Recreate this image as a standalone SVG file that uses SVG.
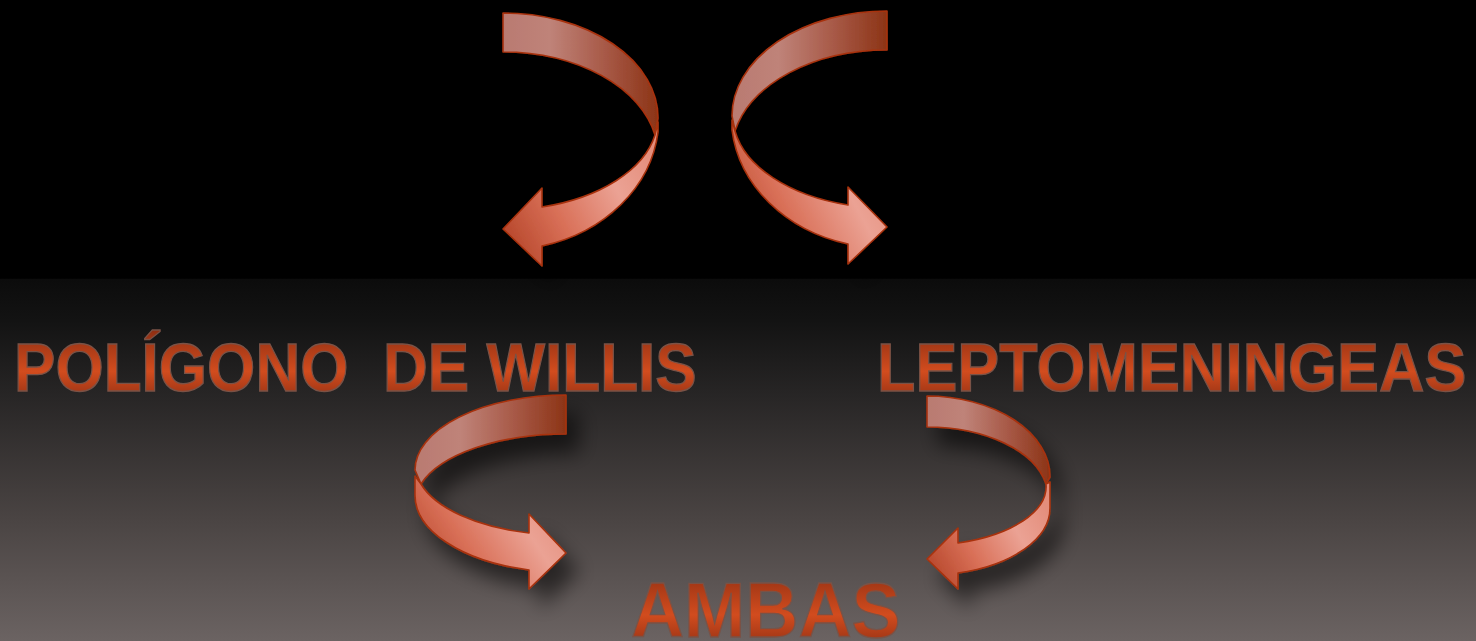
<svg xmlns="http://www.w3.org/2000/svg" xmlns:xlink="http://www.w3.org/1999/xlink" width="1476" height="641" viewBox="0 0 1476 641">
<style>
.face-back{fill:url(#gBack);stroke:#a8320e;stroke-width:1.6;stroke-linejoin:round}
.face-front{fill:url(#gFront);stroke:#a8320e;stroke-width:1.6;stroke-linejoin:round}
.lbl{font-family:"Liberation Sans",Arial,sans-serif;font-weight:bold;fill:url(#gText);stroke:#7a5246;stroke-width:1.3;white-space:pre}
</style>
<defs>
<linearGradient id="bg" x1="0" y1="0" x2="0" y2="641" gradientUnits="userSpaceOnUse">
<stop offset="0" stop-color="#000"/>
<stop offset="0.434" stop-color="#000"/>
<stop offset="0.436" stop-color="#0c0c0c"/>
<stop offset="0.5" stop-color="#131313"/>
<stop offset="0.62" stop-color="#282626"/>
<stop offset="0.81" stop-color="#4a4443"/>
<stop offset="1" stop-color="#6b6362"/>
</linearGradient>
<linearGradient id="gBack" x1="0" y1="0.5" x2="1" y2="0.5">
<stop offset="0" stop-color="#b97a71"/>
<stop offset="0.3" stop-color="#bf8379"/>
<stop offset="0.65" stop-color="#a85a48"/>
<stop offset="1" stop-color="#8c3416"/>
</linearGradient>
<linearGradient id="gFront" x1="0" y1="0.8" x2="1" y2="0.3">
<stop offset="0" stop-color="#b6462a"/>
<stop offset="0.35" stop-color="#d97058"/>
<stop offset="0.72" stop-color="#eba294"/>
<stop offset="1" stop-color="#e48e7c"/>
</linearGradient>
<linearGradient id="gText" x1="0" y1="0" x2="0" y2="1">
<stop offset="0" stop-color="#8e2e12"/>
<stop offset="0.55" stop-color="#d24c1e"/>
<stop offset="1" stop-color="#8a2c12"/>
</linearGradient>
<linearGradient id="reflFade" x1="0" y1="392" x2="0" y2="426" gradientUnits="userSpaceOnUse">
<stop offset="0" stop-color="#fff" stop-opacity="0.8"/>
<stop offset="1" stop-color="#fff" stop-opacity="0"/>
</linearGradient>
<mask id="reflMask" maskUnits="userSpaceOnUse" x="0" y="0" width="1476" height="641">
<rect x="0" y="392" width="1476" height="36" fill="url(#reflFade)"/>
</mask>
<filter id="shadow" x="-30%" y="-30%" width="170%" height="170%">
<feGaussianBlur in="SourceAlpha" stdDeviation="10"/>
<feOffset dx="12" dy="18" result="b"/>
<feComponentTransfer><feFuncA type="linear" slope="0.55"/></feComponentTransfer>
<feMerge><feMergeNode/><feMergeNode in="SourceGraphic"/></feMerge>
</filter>
</defs>

<rect width="1476" height="641" fill="url(#bg)"/>

<g id="connectors">
<g id="arrow-top-left" filter="url(#shadow)">
<path class="face-back" d="M503,13 A155,105 0 0 1 658,118 L655,135 A155,103 0 0 0 503,52 Z"/>
<path class="face-front" d="M655,135 A155,92 0 0 1 542,207 L542,188 L503,229 L542,266 L542,246 A155,132 0 0 0 658,132 L658,122 Z"/>
</g>
<g id="arrow-top-right" filter="url(#shadow)">
<path class="face-back" d="M887,11 A155,105 0 0 0 732,116 L735,131 A155,103 0 0 1 887,50 Z"/>
<path class="face-front" d="M735,131 A155,92 0 0 0 848,205 L848,187 L887,227 L848,264 L848,244 A155,132 0 0 1 732,130 L732,120 Z"/>
</g>
<g id="arrow-bottom-left" filter="url(#shadow)">
<path class="face-back" d="M566,395 A151,75 0 0 0 415,470 L421,484 A151,70 0 0 1 566,434 Z"/>
<path class="face-front" d="M421,484 A151,69 0 0 0 529,533 L529,514 L566,553 L529,589 L529,570 A151,77 0 0 1 415,495 L415,476 Z"/>
</g>
<g id="arrow-bottom-right" filter="url(#shadow)">
<path class="face-back" d="M927,396 A123,81 0 0 1 1050,477 L1046,484 A121,70 0 0 0 927,427 Z"/>
<path class="face-front" d="M1046,484 A123,59 0 0 1 958,543 L958,528 L927,559 L958,589 L958,573 A123,67 0 0 0 1050,508 L1050,482 Z"/>
</g>
</g>

<g id="node-poligono">
<text id="t-polig" class="lbl" transform="translate(14,391) scale(0.913,1)" x="0" y="0" font-size="68" xml:space="preserve">POLÍGONO  DE WILLIS</text>
<use xlink:href="#t-polig" href="#t-polig" transform="matrix(1 0 0 -1 0 784)" mask="url(#reflMask)"/>
</g>
<g id="node-leptomeningeas">
<text id="t-lepto" class="lbl" transform="translate(877,391) scale(0.925,1)" x="0" y="0" font-size="68">LEPTOMENINGEAS</text>
<use xlink:href="#t-lepto" href="#t-lepto" transform="matrix(1 0 0 -1 0 784)" mask="url(#reflMask)"/>
</g>
<g id="node-ambas">
<text class="lbl" transform="translate(631,637) scale(0.955,1)" x="0" y="0" font-size="77">AMBAS</text>
</g>
</svg>
